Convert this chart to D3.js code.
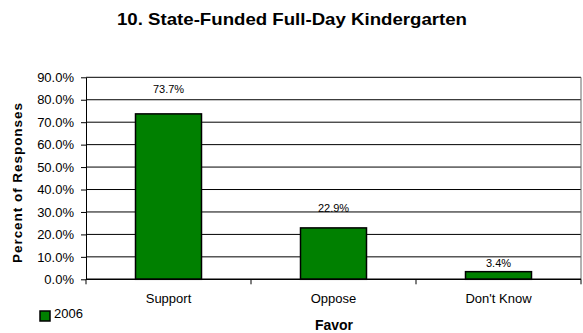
<!DOCTYPE html>
<html>
<head>
<meta charset="utf-8">
<script src="https://cdn.jsdelivr.net/npm/d3@7"></script>
<style>
  html, body { margin: 0; padding: 0; background: #fff; }
  svg { display: block; }
  text { font-family: "Liberation Sans", Arial, sans-serif; fill: #000; }
</style>
</head>
<body>
<svg id="chart" width="583" height="333"></svg>
<script>
// Survey responses, 2006
const categories = ["Support", "Oppose", "Don't Know"];
const values2006 = [73.7, 22.9, 3.4];
const yTicks = [0, 10, 20, 30, 40, 50, 60, 70, 80, 90];
const seriesName = "2006";

// how far each value label sits above its bar (px)
const labelRise = [21, 16, 5];

const W = 583, H = 333;
const plot = { left: 86, right: 581, top: 77.3, bottom: 279.3 };

const svg = d3.select("#chart");

const x = d3.scaleBand()
  .domain(categories)
  .range([plot.left, plot.right])
  .paddingInner(0.6)
  .paddingOuter(0.3);

const y = d3.scaleLinear()
  .domain([0, 90])
  .range([plot.bottom, plot.top]);

const fmt = d => d.toFixed(1) + "%";

// title
svg.append("text")
  .attr("x", 292).attr("y", 25)
  .attr("text-anchor", "middle")
  .attr("textLength", 350)
  .attr("lengthAdjust", "spacingAndGlyphs")
  .style("font-size", "16.5px").style("font-weight", "bold")
  .text("10. State-Funded Full-Day Kindergarten");

// horizontal gridlines
svg.append("g")
  .selectAll("line")
  .data(yTicks.filter(t => t > 0))
  .join("line")
  .attr("x1", plot.left).attr("x2", plot.right)
  .attr("y1", d => y(d)).attr("y2", d => y(d))
  .attr("stroke", "#000").attr("stroke-width", 1);

// right edge of plot area
svg.append("line")
  .attr("x1", plot.right).attr("x2", plot.right)
  .attr("y1", plot.top).attr("y2", plot.bottom)
  .attr("stroke", "#666").attr("stroke-width", 1);

// y axis
const yAxis = d3.axisLeft(y)
  .tickValues(yTicks)
  .tickFormat(fmt)
  .tickSizeInner(5)
  .tickSizeOuter(0)
  .tickPadding(7);

const gy = svg.append("g")
  .attr("transform", `translate(${plot.left},0)`)
  .call(yAxis);
gy.select(".domain").attr("stroke", "#000");
gy.selectAll(".tick line").attr("stroke", "#000");
gy.selectAll(".tick text")
  .style("font-size", "13px")
  .style("font-family", "'Liberation Sans', Arial, sans-serif")
  .attr("fill", "#000");

// bars
svg.append("g")
  .selectAll("rect")
  .data(values2006)
  .join("rect")
  .attr("x", (d, i) => x(categories[i]))
  .attr("width", x.bandwidth())
  .attr("y", d => y(d))
  .attr("height", d => y(0) - y(d))
  .attr("fill", "#008000")
  .attr("stroke", "#000")
  .attr("stroke-width", 1.5);

// value labels
svg.append("g")
  .selectAll("text")
  .data(values2006)
  .join("text")
  .attr("x", (d, i) => x(categories[i]) + x.bandwidth() / 2)
  .attr("y", (d, i) => y(d) - labelRise[i])
  .attr("text-anchor", "middle")
  .style("font-size", "11px")
  .text(d => d.toFixed(1) + "%");

// x axis line and category boundary ticks
svg.append("line")
  .attr("x1", plot.left).attr("x2", plot.right)
  .attr("y1", plot.bottom).attr("y2", plot.bottom)
  .attr("stroke", "#000").attr("stroke-width", 1.5);

const bounds = d3.range(categories.length + 1).map(i => plot.left + i * x.step());
svg.append("g")
  .selectAll("line")
  .data(bounds)
  .join("line")
  .attr("x1", d => d).attr("x2", d => d)
  .attr("y1", plot.bottom).attr("y2", plot.bottom + 5)
  .attr("stroke", "#000");

// category labels
svg.append("g")
  .selectAll("text")
  .data(categories)
  .join("text")
  .attr("x", d => x(d) + x.bandwidth() / 2)
  .attr("y", 303)
  .attr("text-anchor", "middle")
  .style("font-size", "13px")
  .text(d => d);

// axis titles
svg.append("text")
  .attr("x", 334).attr("y", 330)
  .attr("text-anchor", "middle")
  .style("font-size", "14px").style("font-weight", "bold")
  .text("Favor");

svg.append("text")
  .attr("transform", "translate(22,183) rotate(-90)")
  .attr("text-anchor", "middle")
  .attr("textLength", 160)
  .attr("lengthAdjust", "spacing")
  .style("font-size", "13.5px").style("font-weight", "bold")
  .text("Percent of Responses");

// legend
const lg = svg.append("g").attr("transform", "translate(40,311)");
lg.append("rect")
  .attr("width", 10).attr("height", 10)
  .attr("fill", "#008000").attr("stroke", "#000").attr("stroke-width", 1.5);
lg.append("text")
  .attr("x", 14).attr("y", 7)
  .style("font-size", "13px")
  .text(seriesName);
</script>
</body>
</html>
